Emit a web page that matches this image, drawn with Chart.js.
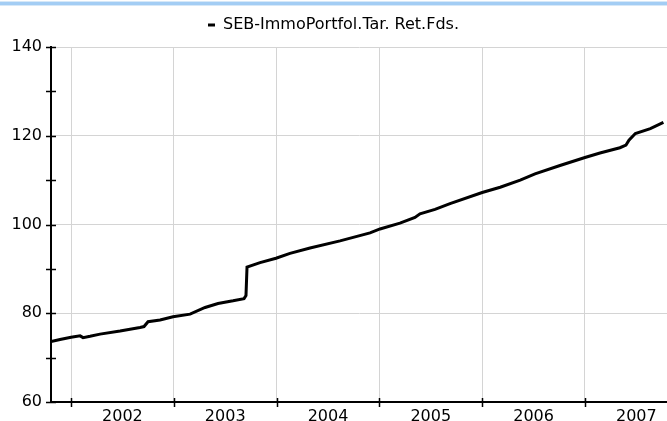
<!DOCTYPE html>
<html>
<head>
<meta charset="UTF-8">
<title>SEB-ImmoPortfol.Tar. Ret.Fds.</title>
<script src="https://cdn.jsdelivr.net/npm/chart.js"></script>
<style>
  body { margin:0; background:#fff; }
  .wrap { position:relative; width:667px; height:421px; }
  .topbar { position:absolute; left:0; top:1px; width:667px; height:3px; background:#a3cdf4;
            border-top:1px solid #d6e8f8; border-bottom:1px solid #d6e8f8; }
  canvas { display:block; }
</style>
</head>
<body>
<div class="wrap">
  <canvas id="c" width="667" height="421"></canvas>
  <div class="topbar"></div>
</div>
<script>
// Werte (x = Jahr als Dezimalzahl)
const seriesName = 'SEB-ImmoPortfol.Tar. Ret.Fds.';
const years = [2001.805, 2001.893, 2002.000, 2002.088, 2002.117, 2002.185, 2002.282, 2002.477,
  2002.671, 2002.710, 2002.749, 2002.866, 2002.992, 2003.158, 2003.304, 2003.430, 2003.576,
  2003.683, 2003.702, 2003.712, 2003.839, 2003.994, 2004.130, 2004.325, 2004.617, 2004.909,
  2005.006, 2005.200, 2005.346, 2005.395, 2005.541, 2005.687, 2006.000, 2006.175, 2006.370,
  2006.514, 2006.757, 2007.000, 2007.146, 2007.340, 2007.399, 2007.428, 2007.490, 2007.636,
  2007.763];
const values = [73.6, 74.1, 74.6, 74.9, 74.5, 74.8, 75.3, 76.0,
  76.8, 77.0, 78.1, 78.5, 79.2, 79.8, 81.3, 82.2, 82.8,
  83.3, 84.0, 90.4, 91.4, 92.4, 93.5, 94.7, 96.3, 98.1,
  99.0, 100.3, 101.6, 102.4, 103.4, 104.7, 107.2, 108.4, 110.0,
  111.4, 113.3, 115.1, 116.1, 117.3, 117.9, 119.0, 120.5, 121.6,
  123.0];
const yearLabels = [2002, 2003, 2004, 2005, 2006, 2007];
const yMin = 60, yMax = 140;

const points = years.map((x, i) => ({ x: x, y: values[i] }));

// kleine Striche, die die Achsen kreuzen
const axisTicks = {
  id: 'axisTicks',
  afterDraw(chart) {
    const c = chart.ctx, xs = chart.scales.x, ys = chart.scales.y;
    const ax = ys.right, ay = xs.top;
    c.save();
    c.strokeStyle = '#000';
    c.lineWidth = 1.5;
    c.beginPath();
    yearLabels.forEach(yr => {
      const px = Math.round(xs.getPixelForValue(yr)) + 0.5;
      c.moveTo(px, ay - 4); c.lineTo(px, ay + 5);
    });
    for (let v = yMin; v <= yMax; v += 10) {
      const py = Math.round(ys.getPixelForValue(v)) + 0.5;
      c.moveTo(ax - 5, py); c.lineTo(ax + 5, py);
    }
    c.stroke();
    c.restore();
  }
};

Chart.defaults.font.family = "'DejaVu Sans', sans-serif";
Chart.defaults.font.size = 16;
Chart.defaults.color = '#000';

new Chart(document.getElementById('c'), {
  type: 'line',
  data: {
    datasets: [{
      label: seriesName,
      data: points,
      borderColor: '#000',
      backgroundColor: '#000',
      borderWidth: 3,
      pointRadius: 0,
      tension: 0
    }]
  },
  options: {
    responsive: false,
    animation: false,
    layout: { padding: { top: 3, right: 0, left: 0, bottom: 0 } },
    plugins: {
      tooltip: { enabled: false },
      // leerer Titel nur als Abstand zwischen Legende und Diagramm
      title: { display: true, text: '', weight: 500, padding: 0, font: { size: 4, lineHeight: 1 } },
      legend: {
        weight: 1000,
        labels: {
          boxWidth: 7,
          boxHeight: 3,
          padding: 14,
          font: { size: 16 },
          generateLabels(chart) {
            return Chart.defaults.plugins.legend.labels.generateLabels(chart).map(l => {
              l.lineWidth = 0; l.fillStyle = '#000'; return l;
            });
          }
        }
      }
    },
    scales: {
      x: {
        type: 'linear',
        min: years[0],
        max: 2007.798,
        afterBuildTicks(scale) {
          const t = [];
          yearLabels.forEach(yr => { t.push({ value: yr }); t.push({ value: yr + 0.5 }); });
          scale.ticks = t;
        },
        afterFit(scale) { scale.height = 19; },
        grid: {
          drawTicks: false,
          color: ctx => (ctx.tick && ctx.tick.value % 1 === 0) ? '#d4d4d4' : 'rgba(0,0,0,0)',
          lineWidth: 1
        },
        border: { color: '#000', width: 2 },
        ticks: {
          autoSkip: false,
          maxRotation: 0,
          padding: 5,
          callback: v => (v % 1 !== 0) ? String(Math.floor(v)) : ''
        }
      },
      y: {
        min: yMin,
        max: yMax,
        afterFit(scale) { scale.width = 51; },
        grid: {
          drawTicks: false,
          color: ctx => (ctx.tick && ctx.tick.value % 20 === 0) ? '#d4d4d4' : 'rgba(0,0,0,0)',
          lineWidth: 1
        },
        border: { color: '#000', width: 2 },
        ticks: {
          stepSize: 10,
          padding: 9,
          callback: v => (v % 20 === 0) ? String(v) : ''
        }
      }
    }
  },
  plugins: [axisTicks]
});
</script>
</body>
</html>
